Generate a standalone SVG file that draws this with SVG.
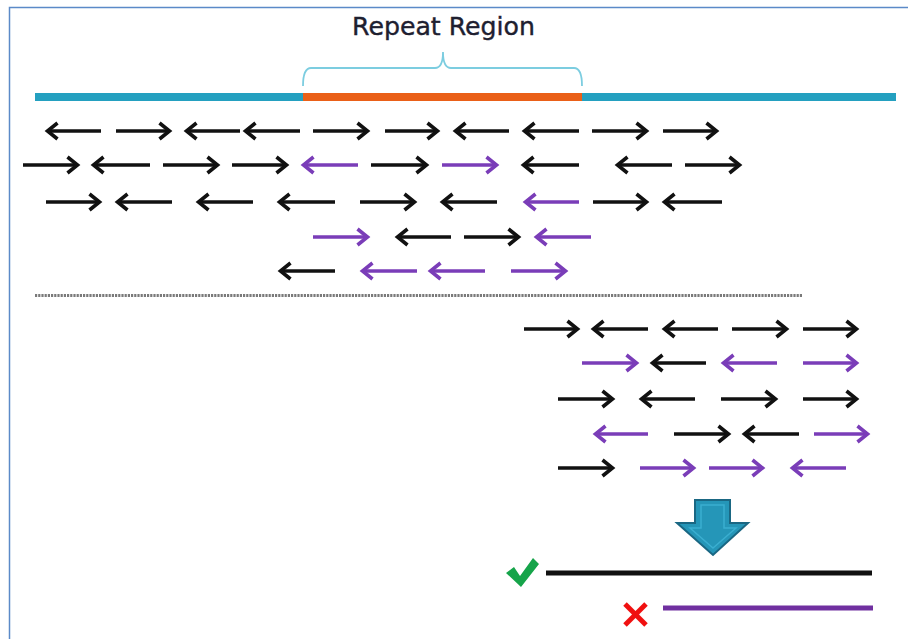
<svg xmlns="http://www.w3.org/2000/svg" width="908" height="639" viewBox="0 0 908 639">
<defs>
<style>
.ab{stroke:#111;stroke-width:3.6;fill:none;marker-end:url(#hb)}
.ap{stroke:#7a3db8;stroke-width:3.6;fill:none;marker-end:url(#hp)}
</style>
<marker id="hb" markerUnits="userSpaceOnUse" viewBox="0 0 16 22" refX="13" refY="11" markerWidth="16" markerHeight="22" orient="auto">
<path d="M2.5,3 L12.5,11 L2.5,19" fill="none" stroke="#111" stroke-width="3.6"/>
</marker>
<marker id="hp" markerUnits="userSpaceOnUse" viewBox="0 0 16 22" refX="13" refY="11" markerWidth="16" markerHeight="22" orient="auto">
<path d="M2.5,3 L12.5,11 L2.5,19" fill="none" stroke="#7a3db8" stroke-width="3.6"/>
</marker>
</defs>
<rect x="0" y="0" width="908" height="639" fill="#fff"/>
<rect x="9.5" y="7.5" width="940" height="700" fill="none" stroke="#5b8ac8" stroke-width="1.5"/>
<g id="title">
<text x="443.5" y="35" text-anchor="middle" font-family="DejaVu Sans, sans-serif" font-size="25" fill="#1e2030" stroke="#1e2030" stroke-width="0.4" textLength="183" lengthAdjust="spacingAndGlyphs">Repeat Region</text>
</g>
<g id="brace">
<path d="M303,86 Q303,68 311,68 L435,68 Q443,68 443,52 Q443,68 451,68 L574,68 Q582,68 582,86" fill="none" stroke="#7ccde0" stroke-width="1.8"/>
</g>
<g id="genome">
<line x1="35" y1="97" x2="303" y2="97" stroke="#24a0c0" stroke-width="8"/>
<line x1="303" y1="97" x2="582" y2="97" stroke="#ea6018" stroke-width="8"/>
<line x1="582" y1="97" x2="896" y2="97" stroke="#24a0c0" stroke-width="8"/>
</g>
<g id="connectors">
<g id="row1">
<line class="ab" x1="101" y1="131" x2="47" y2="131"/>
<line class="ab" x1="116" y1="131" x2="170" y2="131"/>
<line class="ab" x1="240" y1="131" x2="186" y2="131"/>
<line class="ab" x1="300" y1="131" x2="245" y2="131"/>
<line class="ab" x1="313" y1="131" x2="368" y2="131"/>
<line class="ab" x1="385" y1="131" x2="438" y2="131"/>
<line class="ab" x1="509" y1="131" x2="455" y2="131"/>
<line class="ab" x1="579" y1="131" x2="524" y2="131"/>
<line class="ab" x1="592" y1="131" x2="647" y2="131"/>
<line class="ab" x1="663" y1="131" x2="717" y2="131"/>
</g>
<g id="row2">
<line class="ab" x1="23" y1="165" x2="78" y2="165"/>
<line class="ab" x1="150" y1="165" x2="93" y2="165"/>
<line class="ab" x1="163" y1="165" x2="218" y2="165"/>
<line class="ab" x1="232" y1="165" x2="287" y2="165"/>
<line class="ap" x1="358" y1="165" x2="303" y2="165"/>
<line class="ab" x1="371" y1="165" x2="427" y2="165"/>
<line class="ap" x1="442" y1="165" x2="497" y2="165"/>
<line class="ab" x1="579" y1="165" x2="523" y2="165"/>
<line class="ab" x1="672" y1="165" x2="617" y2="165"/>
<line class="ab" x1="685" y1="165" x2="740" y2="165"/>
</g>
<g id="row3">
<line class="ab" x1="46" y1="202" x2="100" y2="202"/>
<line class="ab" x1="172" y1="202" x2="117" y2="202"/>
<line class="ab" x1="253" y1="202" x2="198" y2="202"/>
<line class="ab" x1="335" y1="202" x2="279" y2="202"/>
<line class="ab" x1="360" y1="202" x2="415" y2="202"/>
<line class="ab" x1="497" y1="202" x2="442" y2="202"/>
<line class="ap" x1="579" y1="202" x2="525" y2="202"/>
<line class="ab" x1="593" y1="202" x2="647" y2="202"/>
<line class="ab" x1="722" y1="202" x2="664" y2="202"/>
</g>
<g id="row4">
<line class="ap" x1="313" y1="237" x2="368" y2="237"/>
<line class="ab" x1="451" y1="237" x2="397" y2="237"/>
<line class="ab" x1="464" y1="237" x2="519" y2="237"/>
<line class="ap" x1="591" y1="237" x2="536" y2="237"/>
</g>
<g id="row5">
<line class="ab" x1="335" y1="271" x2="280" y2="271"/>
<line class="ap" x1="417" y1="271" x2="362" y2="271"/>
<line class="ap" x1="485" y1="271" x2="430" y2="271"/>
<line class="ap" x1="511" y1="271" x2="566" y2="271"/>
</g>
<g id="separator">
<line x1="35" y1="295.5" x2="803" y2="295.5" stroke="#7a7a7a" stroke-width="3" stroke-dasharray="2.2,1"/>
</g>
<g id="rowA">
<line class="ab" x1="524" y1="329" x2="578" y2="329"/>
<line class="ab" x1="648" y1="329" x2="593" y2="329"/>
<line class="ab" x1="718" y1="329" x2="664" y2="329"/>
<line class="ab" x1="732" y1="329" x2="787" y2="329"/>
<line class="ab" x1="803" y1="329" x2="857" y2="329"/>
</g>
<g id="rowB">
<line class="ap" x1="582" y1="363" x2="637" y2="363"/>
<line class="ab" x1="706" y1="363" x2="652" y2="363"/>
<line class="ap" x1="777" y1="363" x2="723" y2="363"/>
<line class="ap" x1="803" y1="363" x2="857" y2="363"/>
</g>
<g id="rowC">
<line class="ab" x1="558" y1="399" x2="613" y2="399"/>
<line class="ab" x1="695" y1="399" x2="641" y2="399"/>
<line class="ab" x1="721" y1="399" x2="776" y2="399"/>
<line class="ab" x1="803" y1="399" x2="857" y2="399"/>
</g>
<g id="rowD">
<line class="ap" x1="648" y1="434" x2="595" y2="434"/>
<line class="ab" x1="674" y1="434" x2="729" y2="434"/>
<line class="ab" x1="799" y1="434" x2="744" y2="434"/>
<line class="ap" x1="814" y1="434" x2="868" y2="434"/>
</g>
<g id="rowE">
<line class="ab" x1="558" y1="468" x2="613" y2="468"/>
<line class="ap" x1="640" y1="468" x2="694" y2="468"/>
<line class="ap" x1="709" y1="468" x2="763" y2="468"/>
<line class="ap" x1="846" y1="468" x2="792" y2="468"/>
</g>
</g>
<g id="bigarrow">
<path d="M695,500 L730,500 L730,523 L748,523 L713,555 L677,523 L695,523 Z" fill="#2596b8" stroke="#1a6783" stroke-width="2"/>
<path d="M701,505 L724,505 L724,528 L736,528 L713,548 L690,528 L701,528 Z" fill="none" stroke="#3aaed0" stroke-width="1.5"/>
</g>
<g id="good">
<path d="M506,573 L514,567 L520,576 L533,558 L539,564 L521,587 Z" fill="#16a44a"/>
<line x1="546" y1="573" x2="872" y2="573" stroke="#111" stroke-width="5"/>
</g>
<g id="bad">
<line x1="625" y1="604" x2="646" y2="625" stroke="#f01010" stroke-width="5"/>
<line x1="646" y1="604" x2="625" y2="625" stroke="#f01010" stroke-width="5"/>
<line x1="663" y1="608" x2="873" y2="608" stroke="#7030a0" stroke-width="5"/>
</g>
</svg>
